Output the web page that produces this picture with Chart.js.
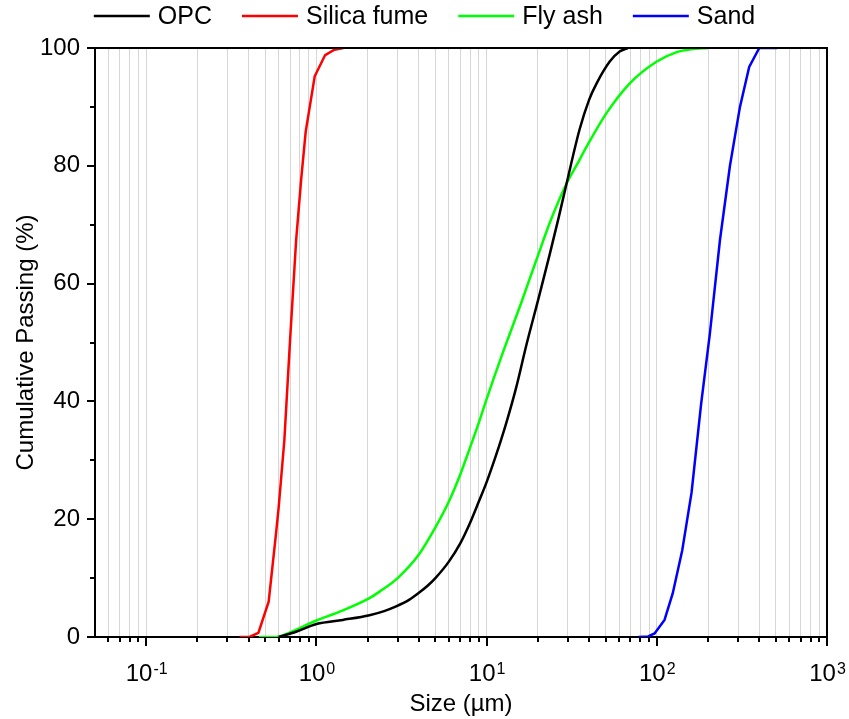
<!DOCTYPE html>
<html>
<head>
<meta charset="utf-8">
<script src="https://cdn.jsdelivr.net/npm/chart.js@4"></script>
<style>
  body { margin: 0; background: #fff; }
  #wrap { width: 849px; height: 719px; }
</style>
</head>
<body>
<div id="wrap"><canvas id="psdChart"></canvas></div>
<script>
// particle size distributions (size in µm, cumulative passing in %)
var opcSize = [0.6, 0.76, 1.0, 1.43, 2.05, 2.5, 2.94, 3.5, 4.0, 4.5, 5.0, 6.0, 7.0, 8.0, 9.0, 10, 11.4, 13, 14.9, 17.1, 20.4, 23.5, 26.5, 29.5, 35.2, 40, 44.3, 52.9, 60.5, 67.6];
var opcPassing = [0, 0.9, 2.2, 2.9, 3.7, 4.4, 5.2, 6.3, 7.5, 8.7, 10.0, 12.8, 15.9, 19.4, 23.0, 26.3, 31.0, 36.2, 42.3, 49.5, 58.0, 65.0, 71.2, 77.0, 86.2, 91.2, 94.0, 97.7, 99.4, 100];

var silicaSize = [0.353, 0.404, 0.456, 0.524, 0.579, 0.600, 0.648, 0.700, 0.760, 0.813, 0.865, 0.977, 1.125, 1.276, 1.441];
var silicaPassing = [0, 0, 0.7, 6.0, 17.6, 22.0, 33.4, 50.4, 67.4, 77.6, 85.8, 95.2, 98.8, 99.7, 100];

var flyashSize = [0.46, 0.58, 0.69, 1.0, 1.37, 2.05, 2.35, 3.0, 4.0, 5.0, 6.0, 7.0, 8.0, 9.0, 10, 12.5, 16, 19.6, 24, 29.5, 33.8, 38.6, 50.5, 69.4, 100, 131, 160, 200];
var flyashPassing = [0, 0, 0.7, 2.8, 4.3, 6.6, 7.7, 10.0, 14.0, 18.6, 23.0, 27.6, 32.2, 36.4, 40.4, 48.4, 56.8, 64.0, 71.0, 77.0, 80.1, 83.2, 88.9, 94.0, 97.7, 99.3, 99.8, 100];

var sandSize = [78, 89, 97, 111, 124, 141, 160, 182, 205, 235, 269, 308, 349, 400, 510];
var sandPassing = [0, 0.1, 0.6, 2.9, 7.4, 14.7, 24.5, 39.5, 51.5, 67.4, 80.0, 90.0, 96.8, 100, 100];

var seriesNames = ["OPC", "Silica fume", "Fly ash", "Sand"];
var seriesColors = ["#000000", "#ff0000", "#00ff00", "#0000ff"];

// tick positions on the log axis (1..9 x 10^n) and on the y axis
var xTickValues = [];
[0.01, 0.1, 1, 10, 100].forEach(function (dec) {
  for (var k = 1; k <= 9; k++) {
    var v = +(k * dec).toPrecision(3);
    if (v > 0.05 && v <= 1000) xTickValues.push(v);
  }
});
xTickValues.push(1000);
var yTickValues = [0, 10, 20, 30, 40, 50, 60, 70, 80, 90, 100];

var FONT = '"Liberation Sans", Arial, sans-serif';

function pairs(xs, ys) {
  return xs.map(function (x, i) { return { x: x, y: ys[i] }; });
}

function isDecade(v) {
  var l = Math.log10(v);
  return Math.abs(l - Math.round(l)) < 1e-9;
}

// frame, tick marks, superscript labels and the legend
var decorations = {
  id: "decorations",
  afterDraw: function (chart) {
    var ctx = chart.ctx;
    var area = chart.chartArea;
    var xs = chart.scales.x;
    var ys = chart.scales.y;
    ctx.save();
    ctx.strokeStyle = "#000";
    ctx.lineWidth = 2;
    ctx.beginPath();
    ctx.moveTo(area.left - 1, area.top);
    ctx.lineTo(area.right, area.top);
    ctx.lineTo(area.right, area.bottom + 1);
    ctx.stroke();

    // x ticks
    xTickValues.forEach(function (v) {
      var px = Math.round(xs.getPixelForValue(v));
      var len = isDecade(v) ? 9 : 5;
      ctx.beginPath();
      ctx.moveTo(px, area.bottom);
      ctx.lineTo(px, area.bottom + len);
      ctx.stroke();
    });
    // y ticks
    yTickValues.forEach(function (v) {
      var py = Math.round(ys.getPixelForValue(v));
      var len = v % 20 === 0 ? 8 : 5;
      ctx.beginPath();
      ctx.moveTo(area.left, py);
      ctx.lineTo(area.left - len, py);
      ctx.stroke();
    });

    // x labels as 10^n
    ctx.fillStyle = "#000";
    ctx.textBaseline = "alphabetic";
    ctx.textAlign = "left";
    xTickValues.filter(isDecade).forEach(function (v) {
      var exp = String(Math.round(Math.log10(v)));
      ctx.font = "24px " + FONT;
      var wBase = ctx.measureText("10").width;
      ctx.font = "16px " + FONT;
      var wExp = ctx.measureText(exp).width;
      var px = xs.getPixelForValue(v);
      var x0 = px - (wBase + wExp) / 2;
      ctx.font = "24px " + FONT;
      ctx.fillText("10", x0, area.bottom + 44);
      ctx.font = "16px " + FONT;
      ctx.fillText(exp, x0 + wBase + 1, area.bottom + 37);
    });

    // legend
    ctx.font = "25px " + FONT;
    var lineLen = 56, textGap = 8, itemGap = 30;
    var items = chart.data.datasets.map(function (ds) {
      return { label: ds.label, color: ds.borderColor, w: ctx.measureText(ds.label).width };
    });
    var total = items.reduce(function (s, it) { return s + lineLen + textGap + it.w; }, 0) + itemGap * (items.length - 1);
    var x = (chart.width - total) / 2;
    var cy = 16;
    ctx.textBaseline = "middle";
    items.forEach(function (it) {
      ctx.strokeStyle = it.color;
      ctx.lineWidth = 2.5;
      ctx.beginPath();
      ctx.moveTo(x, cy);
      ctx.lineTo(x + lineLen, cy);
      ctx.stroke();
      ctx.fillStyle = "#000";
      ctx.fillText(it.label, x + lineLen + textGap, cy + 1);
      x += lineLen + textGap + it.w + itemGap;
    });
    ctx.restore();
  }
};

var datasets = [
  { data: pairs(opcSize, opcPassing), cubicInterpolationMode: "monotone" },
  { data: pairs(silicaSize, silicaPassing), tension: 0 },
  { data: pairs(flyashSize, flyashPassing), cubicInterpolationMode: "monotone" },
  { data: pairs(sandSize, sandPassing), tension: 0 }
].map(function (ds, i) {
  ds.label = seriesNames[i];
  ds.borderColor = seriesColors[i];
  ds.backgroundColor = seriesColors[i];
  ds.borderWidth = 2.5;
  ds.pointRadius = 0;
  ds.fill = false;
  return ds;
});

var psdChart = new Chart(document.getElementById("psdChart").getContext("2d"), {
  type: "line",
  data: { datasets: datasets },
  plugins: [decorations],
  options: {
    responsive: true,
    maintainAspectRatio: false,
    animation: false,
    layout: { padding: { left: 0, right: 22, top: 48, bottom: 0 } },
    plugins: {
      legend: { display: false },
      tooltip: { enabled: false }
    },
    scales: {
      x: {
        type: "logarithmic",
        min: 0.05,
        max: 1000,
        afterBuildTicks: function (scale) {
          scale.ticks = xTickValues.map(function (v) { return { value: v }; });
        },
        afterFit: function (scale) { scale.height = 82; },
        ticks: { display: false },
        grid: {
          drawTicks: false,
          color: function (c) {
            return c.tick && c.tick.value >= 1000 ? "rgba(0,0,0,0)" : "#d6d6d6";
          },
          lineWidth: 1
        },
        border: { display: true, color: "#000", width: 2 },
        title: {
          display: true,
          text: "Size (µm)",
          color: "#000",
          font: { family: FONT, size: 24 },
          padding: { top: 3, bottom: 0 }
        }
      },
      y: {
        min: 0,
        max: 100,
        afterFit: function (scale) { scale.width = 95; },
        ticks: {
          stepSize: 20,
          color: "#000",
          padding: 15,
          font: { family: FONT, size: 24 }
        },
        grid: { display: false, drawTicks: false },
        border: { display: true, color: "#000", width: 2 },
        title: {
          display: true,
          text: "Cumulative Passing (%)",
          color: "#000",
          font: { family: FONT, size: 24 },
          padding: { top: 12, bottom: 0 }
        }
      }
    }
  }
});
</script>
</body>
</html>
